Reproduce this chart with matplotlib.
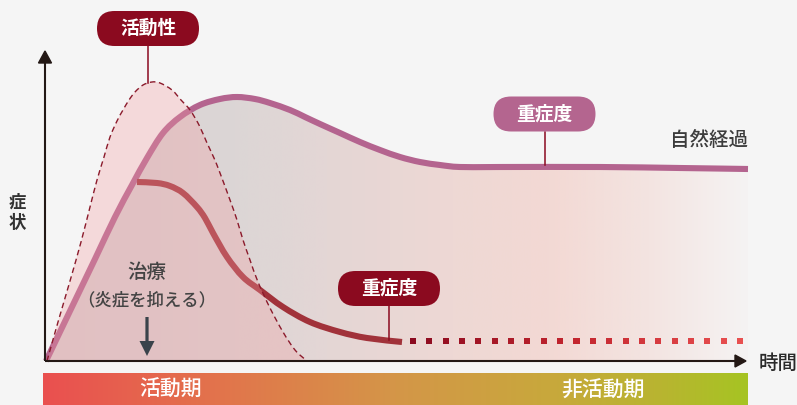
import numpy as np
import matplotlib
matplotlib.use("Agg")
import matplotlib.pyplot as plt
from matplotlib.colors import LinearSegmentedColormap
from matplotlib.patches import Polygon, FancyBboxPatch, PathPatch
from matplotlib.path import Path

plt.rcParams['font.family'] = ['Noto Sans CJK JP', 'DejaVu Sans']

# ---- data (time, symptom) in arbitrary units ----
natural_t = [1, 25, 50, 70, 87, 102, 118, 135, 155, 175, 192, 210, 225, 245, 260,
             275, 295, 315, 335, 355, 375, 395, 415, 455, 555, 635, 703]
natural_s = [0, 50, 102, 144, 176, 203, 228, 244, 256, 262, 264, 262, 258, 251, 244,
             237, 228, 219, 211, 204, 199, 196, 194, 194, 194, 193, 192]

activity_t = [2, 13, 25, 36, 45, 52, 59, 65, 72, 78, 84, 90, 98, 107,
              115, 127, 136, 145, 154, 162, 169, 175, 185, 192, 198, 205, 213, 225, 238, 250, 262]
activity_s = [0, 39, 80, 119, 154, 181, 204, 224, 240, 251, 261, 269, 276, 279,
              278, 271, 261, 251, 236, 218, 203, 188, 161, 141, 121, 101, 79, 53, 29, 11, 0]

treated_t = [92, 112, 125, 138, 152, 160, 168, 182, 198, 215, 238, 265, 295, 322, 357]
treated_s = [179, 178, 175, 168, 154, 143, 128, 104, 84, 71, 54, 39, 29, 23, 19]

remission_t = [368, 695]   # dotted continuation of the treated course
remission_s = 20

phase_labels = ['活動期', '非活動期']
box_labels = ['活動性', '重症度', '重症度']


def smooth_path(xs, ys, close_to_base=False):
    """Path through the read points drawn with Catmull-Rom Bezier segments."""
    p = np.column_stack([xs, ys]).astype(float)
    n = len(p)
    verts = [p[0]]
    codes = [Path.MOVETO]
    for i in range(n - 1):
        p0 = p[i - 1] if i > 0 else p[i]
        p1, p2 = p[i], p[i + 1]
        p3 = p[i + 2] if i + 2 < n else p[i + 1]
        verts += [p1 + (p2 - p0) / 6, p2 - (p3 - p1) / 6, p2]
        codes += [Path.CURVE4] * 3
    if close_to_base:
        verts += [(p[-1, 0], 0), (p[0, 0], 0), p[0]]
        codes += [Path.LINETO, Path.LINETO, Path.CLOSEPOLY]
    return Path(verts, codes)


# ---- figure ----
BG = '#f5f5f5'
fig = plt.figure(figsize=(7.97, 4.05), dpi=100, facecolor=BG)
ax = fig.add_axes([0, 0, 1, 1])
ax.set_xlim(-45, 752)
ax.set_ylim(-44, 361)
ax.axis('off')
ax.set_facecolor(BG)

# natural course fill with horizontal gradient
nat_cmap = LinearSegmentedColormap.from_list('nat', [
    (0.0, '#d9d1d2'), (0.27, '#dcd6d6'), (0.40, '#e4d6d5'), (0.58, '#eed8d4'),
    (0.72, '#f3d9d4'), (0.86, '#f3e4e1'), (1.0, '#f5f3f3')])
grad = np.linspace(0, 1, 256).reshape(1, -1)
clip = PathPatch(smooth_path(natural_t, natural_s, close_to_base=True),
                 transform=ax.transData, facecolor='none', edgecolor='none')
ax.add_patch(clip)
im = ax.imshow(grad, extent=(natural_t[0], natural_t[-1], 0, max(natural_s) + 10),
               aspect='auto', cmap=nat_cmap, zorder=1, interpolation='bicubic')
im.set_clip_path(clip)

# natural course line
ax.add_patch(PathPatch(smooth_path(natural_t, natural_s), fill=False, ec='#b4648f',
                       lw=4.4, capstyle='butt', joinstyle='round', zorder=2))

# treated course line
ax.add_patch(PathPatch(smooth_path(treated_t, treated_s), fill=False, ec='#a1323a',
                       lw=4.4, capstyle='butt', joinstyle='round', zorder=3))

# dotted remission continuation with colour gradient
dot_x = np.arange(remission_t[0], remission_t[1] + 1, 16.35)
dot_cmap = LinearSegmentedColormap.from_list('dot', ['#8b0a1f', '#c3262f', '#e85050'])
ax.scatter(dot_x, np.full_like(dot_x, remission_s), marker='s', s=19,
           c=np.linspace(0, 1, len(dot_x)), cmap=dot_cmap, linewidths=0, zorder=3)

# activity overlay
act_path = smooth_path(activity_t, activity_s)
ax.add_patch(PathPatch(act_path, fc='#f29ea2', alpha=0.32, lw=0, zorder=4))
ax.add_patch(PathPatch(act_path, fill=False, ec='#8b1a2b', lw=1.0,
                       ls=(0, (4, 2.6)), zorder=5))

# axes with arrows
AX = '#231815'
ax.plot([0, 0], [0, 300], color=AX, lw=1.5, zorder=6, solid_capstyle='butt')
ax.add_patch(Polygon([(0, 310), (-6.5, 298), (6.5, 298)], closed=True, color=AX, zorder=6))
ax.plot([0, 692], [0, 0], color=AX, lw=1.5, zorder=6, solid_capstyle='butt')
ax.add_patch(Polygon([(701, 0), (690, 6), (690, -6)], closed=True, color=AX, zorder=6))

ax.text(-28, 158, '症', ha='center', va='center', fontsize=12.5, fontweight='bold', color='#333333')
ax.text(-28, 138, '状', ha='center', va='center', fontsize=12.5, fontweight='bold', color='#333333')
ax.text(733, -2, '時間', ha='center', va='center', fontsize=14, fontweight='medium', color='#2a2a2a')

# phase bar
bar_cmap = LinearSegmentedColormap.from_list('bar', [
    (0.0, '#ea5050'), (0.25, '#e2744c'), (0.5, '#d49648'), (0.72, '#c8a83c'),
    (0.88, '#b8b530'), (1.0, '#a6c423')])
ax.imshow(grad, extent=(-2, 703, -44, -12), aspect='auto', cmap=bar_cmap, zorder=1,
          interpolation='bicubic')
ax.text(125, -29, phase_labels[0], ha='center', va='center', fontsize=15,
        fontweight='medium', color='white', zorder=8)
ax.text(558, -30, phase_labels[1], ha='center', va='center', fontsize=15,
        fontweight='medium', color='white', zorder=8)

# label boxes with connectors
def label_box(cx, cy, text, fc, line_to, w=102, h=35):
    ax.plot([cx, cx], [cy - h / 2, line_to], color='#8b0a1f', lw=1.1, zorder=7)
    ax.add_patch(FancyBboxPatch((cx - w / 2, cy - h / 2), w, h,
                                boxstyle=f'round,pad=0,rounding_size={h/2}',
                                fc=fc, ec='none', zorder=7))
    ax.text(cx, cy, text, ha='center', va='center', color='white', fontsize=13.5,
            fontweight='bold', zorder=8)

label_box(103, 332.5, box_labels[0], '#8b0a1f', 278)
label_box(499.5, 247, box_labels[1], '#b4658f', 196)
label_box(344, 72.5, box_labels[2], '#8b0a1f', 21)

ax.text(664, 221, '自然経過', ha='center', va='center', fontsize=14, fontweight='medium',
        color='#3c3c3c', zorder=8)

# treatment annotation
ax.text(102, 88, '治療', ha='center', va='center', fontsize=14, fontweight='medium',
        color='#444444', zorder=8)
ax.text(102, 61, '（炎症を抑える）', ha='center', va='center', fontsize=12.5,
        fontweight='medium', color='#444444', zorder=8)
ax.arrow(102, 44, 0, -39, width=3.2, head_width=15, head_length=15,
         length_includes_head=True, color='#3a434b', zorder=8, lw=0)

fig.savefig('out.png', dpi=100, facecolor=BG)
